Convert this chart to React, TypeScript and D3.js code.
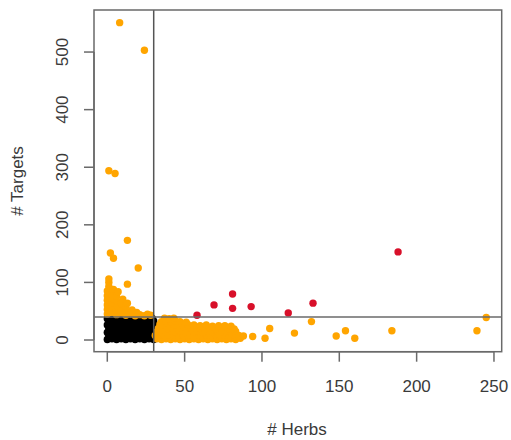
import React from "react";
import * as d3 from "d3";

// ---- data (herbs, targets) ----
const blackPoints: [number, number][] = [
  [0, 1], [3, 2], [6, 1], [9, 2], [12, 1], [15, 2], [18, 1], [21, 2], [24, 1], [27, 2], [30, 1],
  [1, 7], [4, 8], [7, 7], [10, 8], [13, 7], [16, 8], [19, 7], [22, 8], [25, 7], [28, 8], [30, 9],
  [0, 13], [3, 14], [6, 13], [9, 14], [12, 13], [15, 14], [18, 13], [21, 14], [24, 13], [27, 14], [30, 15],
  [1, 20], [4, 19], [7, 20], [10, 19], [13, 20], [16, 19], [19, 20], [22, 19], [25, 20], [28, 19], [30, 21],
  [0, 26], [3, 25], [6, 26], [9, 25], [12, 26], [15, 25], [18, 26], [21, 25], [24, 26], [27, 25], [30, 27],
  [1, 31], [4, 32], [7, 31], [10, 32], [13, 31], [16, 32], [19, 31], [22, 32], [25, 31], [28, 32], [30, 33],
  [0, 37], [3, 36], [6, 38], [9, 36], [12, 37], [15, 38], [18, 36], [21, 37], [24, 36], [27, 37], [29, 38],
];

const orangeLeft: [number, number][] = [
  [0, 45], [0, 53], [0, 61], [0, 69], [0, 77], [0, 85], [1, 93], [1, 100], [1, 106],
  [3, 48], [3, 56], [3, 64], [3, 72], [3, 80], [4, 88],
  [6, 44], [6, 52], [6, 60], [6, 68], [6, 76], [7, 84],
  [9, 47], [9, 55], [9, 63], [10, 71],
  [12, 43], [12, 50], [12, 58], [13, 64],
  [15, 45], [16, 52], [18, 42], [19, 48], [21, 44], [24, 42], [26, 45], [28, 43],
  [13, 97], [20, 125], [13, 173], [2, 151], [4, 142], [1, 294], [5, 289], [8, 551], [24, 503],
];

const orangeRight: [number, number][] = [
  [32, 2], [35, 1], [38, 2], [41, 1], [44, 2], [47, 1], [50, 2], [53, 1], [56, 2], [59, 1],
  [62, 2], [65, 1], [68, 2], [71, 1], [74, 2], [77, 1], [80, 2], [83, 1], [86, 3],
  [31, 8], [34, 9], [37, 8], [40, 9], [43, 8], [46, 9], [49, 8], [52, 9], [55, 8], [58, 9],
  [61, 8], [64, 9], [67, 8], [70, 9], [73, 8], [76, 9], [79, 8], [82, 9], [85, 8], [88, 7],
  [32, 14], [35, 15], [38, 14], [41, 15], [44, 14], [47, 15], [50, 14], [53, 15], [56, 14],
  [59, 15], [62, 14], [65, 15], [68, 14], [71, 15], [74, 14], [77, 15], [80, 14], [83, 15],
  [33, 20], [36, 21], [39, 20], [42, 21], [45, 20], [48, 21], [51, 20], [54, 21], [57, 20],
  [60, 21], [63, 20], [66, 21], [70, 20], [74, 21], [78, 20], [82, 19],
  [34, 27], [37, 26], [40, 27], [43, 26], [46, 27], [49, 26], [52, 27], [56, 26], [60, 25],
  [64, 26], [68, 24], [72, 25], [76, 25], [80, 24],
  [35, 32], [38, 33], [41, 32], [44, 33], [47, 32], [51, 31],
  [37, 38], [40, 37], [43, 38],
  [94, 6], [102, 3], [105, 20], [121, 12], [132, 32], [148, 7], [154, 16], [160, 3],
  [184, 16], [239, 16], [245, 39],
];

const redPoints: [number, number][] = [
  [58, 43], [69, 61], [81, 80], [81, 55], [93, 58], [117, 47], [133, 64], [188, 153],
];

const xTicks = [0, 50, 100, 150, 200, 250];
const yTicks = [0, 100, 200, 300, 400, 500];
const herbCut = 30;
const targetCut = 40;

const W = 511;
const H = 440;
const box = { left: 94, right: 501.7, top: 10, bottom: 351.7 };

export default function App() {
  const x = d3.scaleLinear().domain([-8.6, 255]).range([box.left, box.right]);
  const y = d3.scaleLinear().domain([-20.3, 573]).range([box.bottom, box.top]);
  const font = "'Liberation Sans', Arial, Helvetica, sans-serif";
  const fs = 17;
  const txt = "#3a3a3a";
  const lineC = "#6a6a6a";
  const r = 3.7;

  const dots = (pts: [number, number][], color: string, key: string) =>
    pts.map((p, i) => (
      <circle key={key + i} cx={x(p[0])} cy={y(p[1])} r={r} fill={color} />
    ));

  return (
    <svg
      width={W}
      height={H}
      style={{ position: "absolute", left: 0, top: 0, background: "#fff" }}
      fontFamily={font}
    >
      {dots(blackPoints, "#000000", "b")}
      {dots(orangeLeft, "#FFA500", "ol")}
      {dots(orangeRight, "#FFA500", "or")}
      {dots(redPoints, "#d8102a", "r")}

      {/* threshold lines */}
      <line x1={x(herbCut)} x2={x(herbCut)} y1={box.top} y2={box.bottom} stroke="#555" strokeWidth={1.5} />
      <line x1={box.left} x2={box.right} y1={y(targetCut)} y2={y(targetCut)} stroke={lineC} strokeWidth={1.5} />

      {/* box */}
      <rect
        x={box.left}
        y={box.top}
        width={box.right - box.left}
        height={box.bottom - box.top}
        fill="none"
        stroke={lineC}
        strokeWidth={1.5}
      />

      {/* x axis */}
      <line x1={x(0)} x2={x(250)} y1={box.bottom} y2={box.bottom} stroke={lineC} strokeWidth={1.5} />
      {xTicks.map((t) => (
        <g key={"xt" + t}>
          <line x1={x(t)} x2={x(t)} y1={box.bottom} y2={box.bottom + 10} stroke={lineC} strokeWidth={1.5} />
          <text x={x(t)} y={386} textAnchor="middle" dominantBaseline="central" fontSize={fs} fill={txt}>
            {t}
          </text>
        </g>
      ))}

      {/* y axis */}
      <line x1={box.left} x2={box.left} y1={y(0)} y2={y(500)} stroke={lineC} strokeWidth={1.5} />
      {yTicks.map((t) => (
        <g key={"yt" + t}>
          <line x1={box.left - 10} x2={box.left} y1={y(t)} y2={y(t)} stroke={lineC} strokeWidth={1.5} />
          <text
            transform={`translate(62,${y(t)}) rotate(-90)`}
            textAnchor="middle"
            dominantBaseline="central"
            fontSize={fs}
            fill={txt}
          >
            {t}
          </text>
        </g>
      ))}

      {/* axis titles */}
      <text x={297} y={429} textAnchor="middle" dominantBaseline="central" fontSize={fs} fill={txt}>
        # Herbs
      </text>
      <text
        transform={`translate(17,181) rotate(-90)`}
        textAnchor="middle"
        dominantBaseline="central"
        fontSize={fs}
        fill={txt}
      >
        # Targets
      </text>
    </svg>
  );
}
